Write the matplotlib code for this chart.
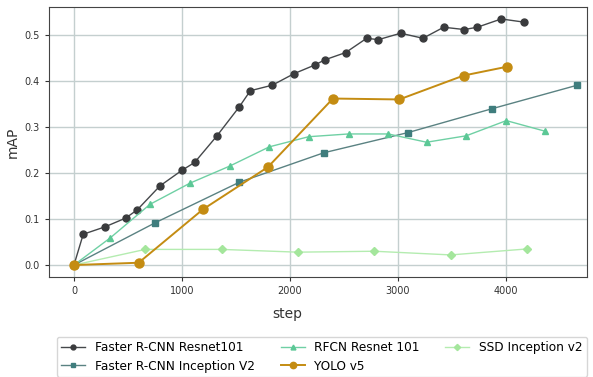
import matplotlib.pyplot as plt

# Faster R-CNN Resnet101
frcnn_res_x = [0, 86, 287, 478, 586, 796, 1000, 1117, 1321, 1531, 1633, 1836, 2037, 2231, 2321,
               2516, 2710, 2818, 3025, 3231, 3423, 3614, 3734, 3956, 4170]
frcnn_res_y = [0.0, 0.067, 0.083, 0.102, 0.120, 0.172, 0.206, 0.223, 0.280, 0.344, 0.379, 0.391, 0.416, 0.435, 0.446,
               0.462, 0.493, 0.490, 0.504, 0.493, 0.517, 0.512, 0.517, 0.535, 0.528]

# Faster R-CNN Inception V2
frcnn_inc_x = [0, 753, 1531, 2312, 3093, 3873, 4660]
frcnn_inc_y = [0.0, 0.092, 0.180, 0.244, 0.288, 0.340, 0.391]

# RFCN Resnet 101
rfcn_x = [0, 336, 704, 1074, 1441, 1809, 2173, 2543, 2910, 3265, 3632, 4003, 4361]
rfcn_y = [0.0, 0.059, 0.132, 0.178, 0.215, 0.257, 0.279, 0.285, 0.285, 0.267, 0.281, 0.314, 0.291]

# YOLO v5
yolo_x = [0, 599, 1194, 1796, 2398, 3012, 3608, 4006]
yolo_y = [0.0, 0.005, 0.121, 0.213, 0.362, 0.360, 0.412, 0.431]

# SSD Inception v2
ssd_x = [0, 660, 1367, 2071, 2781, 3488, 4194]
ssd_y = [0.0, 0.034, 0.034, 0.028, 0.030, 0.022, 0.035]

fig = plt.figure(figsize=(5.93, 3.77), dpi=100)
ax = fig.add_axes([49 / 593, 1 - 277 / 377, 538 / 593, 270 / 377])

ax.plot(frcnn_res_x, frcnn_res_y, color='#45484b', lw=1, marker='o', ms=5,
        mfc='#3a3b3d', mec='#3a3b3d', label='Faster R-CNN Resnet101', zorder=3)
ax.plot(frcnn_inc_x, frcnn_inc_y, color='#5a8282', lw=1, marker='s', ms=5,
        mfc='#3f7d7d', mec='#3f7d7d', label='Faster R-CNN Inception V2', zorder=3)
ax.plot(rfcn_x, rfcn_y, color='#6fd0a4', lw=1, marker='^', ms=5,
        mfc='#5cc896', mec='#5cc896', label='RFCN Resnet 101', zorder=3)
ax.plot(yolo_x, yolo_y, color='#c48c12', lw=1.4, marker='o', ms=6.5,
        mfc='#c48c12', mec='#c48c12', label='YOLO v5', zorder=4)
ax.plot(ssd_x, ssd_y, color='#b4ecb0', lw=1, marker='D', ms=4.5,
        mfc='#a4e69c', mec='#a4e69c', label='SSD Inception v2', zorder=2)

ax.set_xlim(-231, 4750)
ax.set_ylim(-0.026, 0.561)
ax.set_xticks([0, 1000, 2000, 3000, 4000])
ax.set_yticks([0.0, 0.1, 0.2, 0.3, 0.4, 0.5])
ax.grid(True, color='#c4cfcf', lw=1)
ax.set_axisbelow(True)
ax.tick_params(labelsize=7, colors='#333333', length=3)
for s in ax.spines.values():
    s.set_color('#444444')

ax.set_xlabel('step', fontsize=10, color='#333333')
ax.xaxis.set_label_coords((287 - 49) / 538, -0.11)
ax.set_ylabel('mAP', fontsize=10, color='#333333')
ax.yaxis.set_label_coords(-0.055, 0.5)

fig.legend(loc='upper left', bbox_to_anchor=(57 / 593, 0, 530 / 593, 1 - 337 / 377),
           ncol=3, mode='expand', fontsize=8.7, handlelength=2, markerscale=0.7,
           borderaxespad=0, frameon=True, edgecolor='#cccccc', fancybox=True,
           labelspacing=0.45, borderpad=0.35)

fig.savefig('out.png', dpi=100)
